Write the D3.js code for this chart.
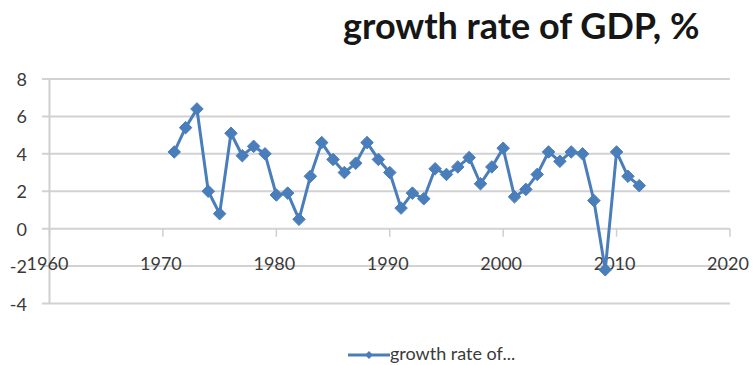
<!DOCTYPE html>
<html>
<head>
<meta charset="utf-8">
<script src="https://cdn.jsdelivr.net/npm/d3@7"></script>
<style>
  html, body { margin: 0; padding: 0; background: #fff; }
  svg { display: block; }
  text { font-family: Lato, "Open Sans", sans-serif; }
</style>
</head>
<body>
<svg id="chart" width="756" height="365"></svg>
<script>
// Annual GDP growth, %
const years = [1971, 1972, 1973, 1974, 1975, 1976, 1977, 1978, 1979, 1980,
               1981, 1982, 1983, 1984, 1985, 1986, 1987, 1988, 1989, 1990,
               1991, 1992, 1993, 1994, 1995, 1996, 1997, 1998, 1999, 2000,
               2001, 2002, 2003, 2004, 2005, 2006, 2007, 2008, 2009, 2010,
               2011, 2012];
const growth = [4.1, 5.4, 6.4, 2.0, 0.8, 5.1, 3.9, 4.4, 4.0, 1.8,
                1.9, 0.5, 2.8, 4.6, 3.7, 3.0, 3.5, 4.6, 3.7, 3.0,
                1.1, 1.9, 1.6, 3.2, 2.9, 3.3, 3.8, 2.4, 3.3, 4.3,
                1.7, 2.1, 2.9, 4.1, 3.6, 4.1, 4.0, 1.5, -2.2, 4.1,
                2.8, 2.3];
const xTicks = [1960, 1970, 1980, 1990, 2000, 2010, 2020];
const yTicks = [-4, -2, 0, 2, 4, 6, 8];
const seriesName = "growth rate of...";
const title = "growth rate of GDP, %";

const svg = d3.select("#chart");
const blue = "#4a7ebb";
const labelColor = "#3a3a3a";

const x = d3.scaleLinear().domain([1960, 2020]).range([49.5, 730]);
const y = d3.scaleLinear().domain([-4, 8]).range([303.5, 79]);

// title
svg.append("text")
  .attr("x", 343).attr("y", 39)
  .attr("font-size", 36).attr("font-weight", 700)
  .attr("fill", "#161616")
  .text(title);

// horizontal gridlines (extend left as tick marks)
svg.append("g").selectAll("line").data(yTicks).join("line")
  .attr("x1", 42).attr("x2", x(2020))
  .attr("y1", d => y(d)).attr("y2", d => y(d))
  .attr("stroke", "#d2d2d2").attr("stroke-width", 2);

// vertical axis line
svg.append("line")
  .attr("x1", x(1960)).attr("x2", x(1960))
  .attr("y1", y(8)).attr("y2", y(-4))
  .attr("stroke", "#cfcfcf").attr("stroke-width", 2);

// y labels
svg.append("g").selectAll("text").data(yTicks).join("text")
  .attr("x", 27).attr("y", d => y(d) + 7)
  .attr("text-anchor", "end")
  .attr("font-size", 18).attr("fill", labelColor)
  .text(d => d);

// x-axis ticks at zero line
svg.append("g").selectAll("line").data(xTicks).join("line")
  .attr("x1", d => x(d)).attr("x2", d => x(d))
  .attr("y1", y(0)).attr("y2", y(0) + 8)
  .attr("stroke", "#cfcfcf").attr("stroke-width", 1.5);

// x labels
svg.append("g").selectAll("text").data(xTicks).join("text")
  .attr("x", d => x(d) - 2).attr("y", 270)
  .attr("text-anchor", "middle")
  .attr("font-size", 18).attr("fill", labelColor)
  .text(d => d);

// series line
const pts = years.map((yr, i) => [yr, growth[i]]);
svg.append("path")
  .datum(pts)
  .attr("fill", "none")
  .attr("stroke", blue).attr("stroke-width", 3)
  .attr("stroke-linejoin", "round")
  .attr("d", d3.line().x(d => x(d[0])).y(d => y(d[1])));

// diamond markers
const diamond = d3.symbol().type(d3.symbolDiamond2).size(100);
svg.append("g").selectAll("path").data(pts).join("path")
  .attr("transform", d => `translate(${x(d[0])},${y(d[1])})`)
  .attr("d", diamond)
  .attr("fill", blue).attr("stroke", blue).attr("stroke-width", 1);

// legend
const lg = svg.append("g").attr("transform", "translate(348,355)");
lg.append("line").attr("x1", 0).attr("x2", 42).attr("y1", 0).attr("y2", 0)
  .attr("stroke", blue).attr("stroke-width", 3);
lg.append("path").attr("transform", "translate(21,0)")
  .attr("d", d3.symbol().type(d3.symbolDiamond2).size(40))
  .attr("fill", blue);
lg.append("text").attr("x", 42).attr("y", 5)
  .attr("font-size", 18).attr("fill", labelColor)
  .text(seriesName);
</script>
</body>
</html>
